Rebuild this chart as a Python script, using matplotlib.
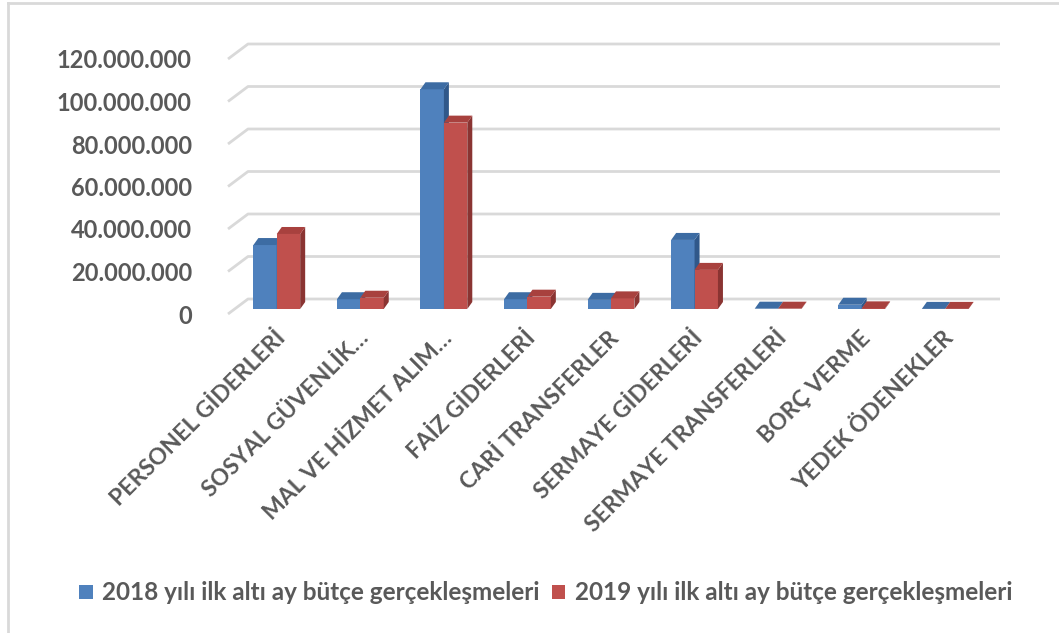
import numpy as np
import matplotlib
matplotlib.use("Agg")
import matplotlib.pyplot as plt
from matplotlib.patches import Rectangle, Polygon, Patch
from matplotlib.transforms import offset_copy, ScaledTranslation

categories = ["PERSONEL GİDERLERİ", "SOSYAL GÜVENLİK…", "MAL VE HİZMET ALIM…",
              "FAİZ GİDERLERİ", "CARİ TRANSFERLER", "SERMAYE GİDERLERİ",
              "SERMAYE TRANSFERLERİ", "BORÇ VERME", "YEDEK ÖDENEKLER"]
y2018 = [30100000, 4600000, 103400000, 4600000, 4300000, 32500000, 150000, 2000000, 50000]
y2019 = [35300000, 5300000, 87700000, 5800000, 5000000, 18400000, 150000, 300000, 50000]
series_names = ["2018 yılı ilk altı ay bütçe gerçekleşmeleri",
                "2019 yılı ilk altı ay bütçe gerçekleşmeleri"]
yticks = [0, 20000000, 40000000, 60000000, 80000000, 100000000, 120000000]

plt.rcParams['font.family'] = ['Lato', 'DejaVu Sans']
txt_col = "#595959"
grid_col = "#d9d9d9"
colors = [("#4F81BD", "#3D6CA3", "#30588A"), ("#C0504D", "#A8413E", "#8A3432")]

W, H = 1059, 633
fig = plt.figure(figsize=(W / 100, H / 100), dpi=100)
ax = fig.add_axes([228 / W, 1 - 314 / H, (980 - 228) / W, (314 - 59) / H])
ax.set_xlim(-0.5, len(categories) - 0.5)
ax.set_ylim(0, 120000000)
for s in ax.spines.values():
    s.set_visible(False)
ax.patch.set_alpha(0)

# pixel -> data conversion
p0 = ax.transData.transform((0, 0))
p1 = ax.transData.transform((1, 1))
px_x = p1[0] - p0[0]
px_y = p1[1] - p0[1]

# back wall gridlines with left diagonal
bdx, bdy = 20 / px_x, 15 / px_y
x_left, x_right = -0.5, len(categories) - 0.5
for v in yticks:
    ax.plot([x_left, x_left + bdx, x_right + bdx], [v, v + bdy, v + bdy],
            color=grid_col, lw=2, solid_capstyle='butt', zorder=1, clip_on=False)

# 3d-ish bars
bar_tr = offset_copy(ax.transData, fig=fig, x=7, y=5, units='dots')
w = 0.28
ddx, ddy = 5 / px_x, 7 / px_y
for k, vals in enumerate([y2018, y2019]):
    front, top, side = colors[k]
    for i, h in enumerate(vals):
        x0 = i - w + k * w
        ax.add_patch(Rectangle((x0, 0), w, h, facecolor=front, edgecolor='none',
                               transform=bar_tr, zorder=3 + k, clip_on=False))
        ax.add_patch(Polygon([(x0 + w, 0), (x0 + w + ddx, ddy), (x0 + w + ddx, h + ddy), (x0 + w, h)],
                             facecolor=side, edgecolor='none', transform=bar_tr,
                             zorder=3 + k, clip_on=False))
        ax.add_patch(Polygon([(x0, h), (x0 + ddx, h + ddy), (x0 + w + ddx, h + ddy), (x0 + w, h)],
                             facecolor=top, edgecolor='none', transform=bar_tr,
                             zorder=3 + k, clip_on=False))

ax.set_yticks(yticks)
ax.set_yticklabels(["{:,}".format(v).replace(",", ".") for v in yticks],
                   fontsize=17, fontweight='bold', color=txt_col)
ax.tick_params(axis='y', length=0, pad=26)
ax.set_xticks(range(len(categories)))
ax.set_xticklabels(categories, rotation=45, ha='right', va='center', rotation_mode='anchor',
                   fontsize=16.5, fontweight='bold', color=txt_col)
ax.tick_params(axis='x', length=0, pad=15)
shift = ScaledTranslation(12 / 100, 0, fig.dpi_scale_trans)
for lab in ax.get_xticklabels():
    lab.set_transform(lab.get_transform() + shift)

handles = [Patch(facecolor=colors[0][0]), Patch(facecolor=colors[1][0])]
fig.legend(handles, series_names, loc='center', bbox_to_anchor=(546 / W, 1 - 593 / H),
           ncol=2, frameon=False, handlelength=0.55, handleheight=0.55, handletextpad=0.4,
           columnspacing=0.5, prop={'size': 17.5, 'weight': 'bold'}, labelcolor=txt_col)

# chart area border (top and left)
fig.add_artist(plt.Line2D([8 / W, 1], [1 - 3 / H, 1 - 3 / H], color=grid_col, lw=2,
                          transform=fig.transFigure))
fig.add_artist(plt.Line2D([8 / W, 8 / W], [0, 1 - 3 / H], color=grid_col, lw=2,
                          transform=fig.transFigure))

fig.savefig("out.png", dpi=100)
